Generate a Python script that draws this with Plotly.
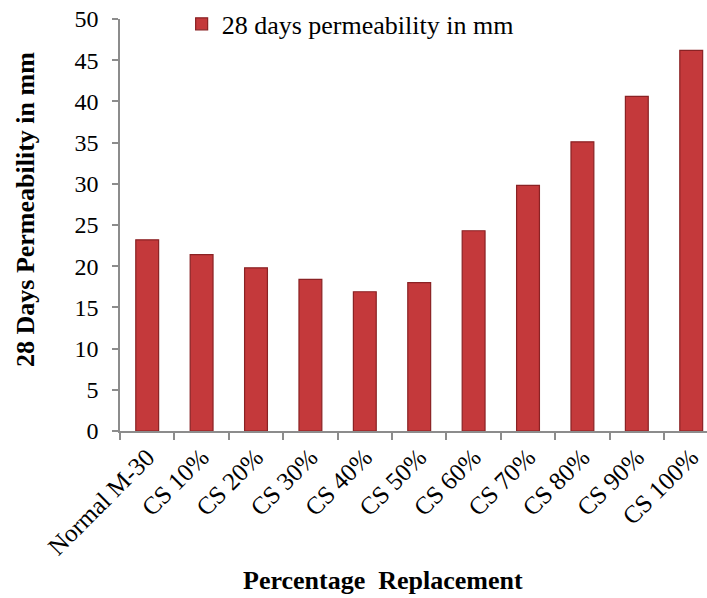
import plotly.graph_objects as go

categories = ["Normal M-30", "CS 10%", "CS 20%", "CS 30%", "CS 40%", "CS 50%",
              "CS 60%", "CS 70%", "CS 80%", "CS 90%", "CS 100%"]
permeability = [23.2, 21.4, 19.8, 18.4, 16.9, 18.0, 24.3, 29.8, 35.1, 40.6, 46.2]
series_name = "28 days permeability in mm"
y_ticks = [0, 5, 10, 15, 20, 25, 30, 35, 40, 45, 50]

FONT = "Liberation Serif, Times New Roman, serif"
AXIS_COLOR = "#8c8c8c"

fig = go.Figure()
fig.add_trace(go.Bar(
    x=categories, y=permeability, name=series_name,
    marker=dict(color="#c4393b", line=dict(color="#8a2224", width=1.2)),
    width=0.42, showlegend=True,
))

fig.update_layout(
    width=707, height=598,
    margin=dict(l=120, r=0, t=19, b=167),
    plot_bgcolor="white", paper_bgcolor="white",
    font=dict(family=FONT, size=24, color="black"),
    showlegend=True,
    legend=dict(x=0.105, y=1.045, xanchor="left", yanchor="top",
                bgcolor="rgba(0,0,0,0)", font=dict(family=FONT, size=26),
                itemwidth=30),
    xaxis=dict(
        range=[-0.5, 10.29], showline=True, linecolor=AXIS_COLOR, linewidth=1.5,
        ticks="outside", tickson="boundaries", ticklen=7, tickcolor=AXIS_COLOR,
        tickwidth=1.5, tickangle=-45, showgrid=False,
        tickfont=dict(family=FONT, size=25),
    ),
    yaxis=dict(
        range=[0, 50], tickvals=y_ticks, showline=True, linecolor=AXIS_COLOR,
        linewidth=1.5, ticks="outside", ticklen=6, tickcolor=AXIS_COLOR,
        tickwidth=1.5, showgrid=False, zeroline=False, ticklabelstandoff=9,
        tickfont=dict(family=FONT, size=24),
    ),
    annotations=[
        dict(text="<b>Percentage  Replacement</b>", xref="paper", yref="paper",
             x=(383 - 120) / 587, y=-(580 - 431) / 412, xanchor="center",
             yanchor="middle", showarrow=False, font=dict(family=FONT, size=26)),
        dict(text="<b>28 Days Permeability in mm</b>", xref="paper", yref="paper",
             x=-(120 - 25) / 587, y=(431 - 210) / 412, xanchor="center",
             yanchor="middle", textangle=-90, showarrow=False,
             font=dict(family=FONT, size=26)),
    ],
)

fig.write_html("out.html")
